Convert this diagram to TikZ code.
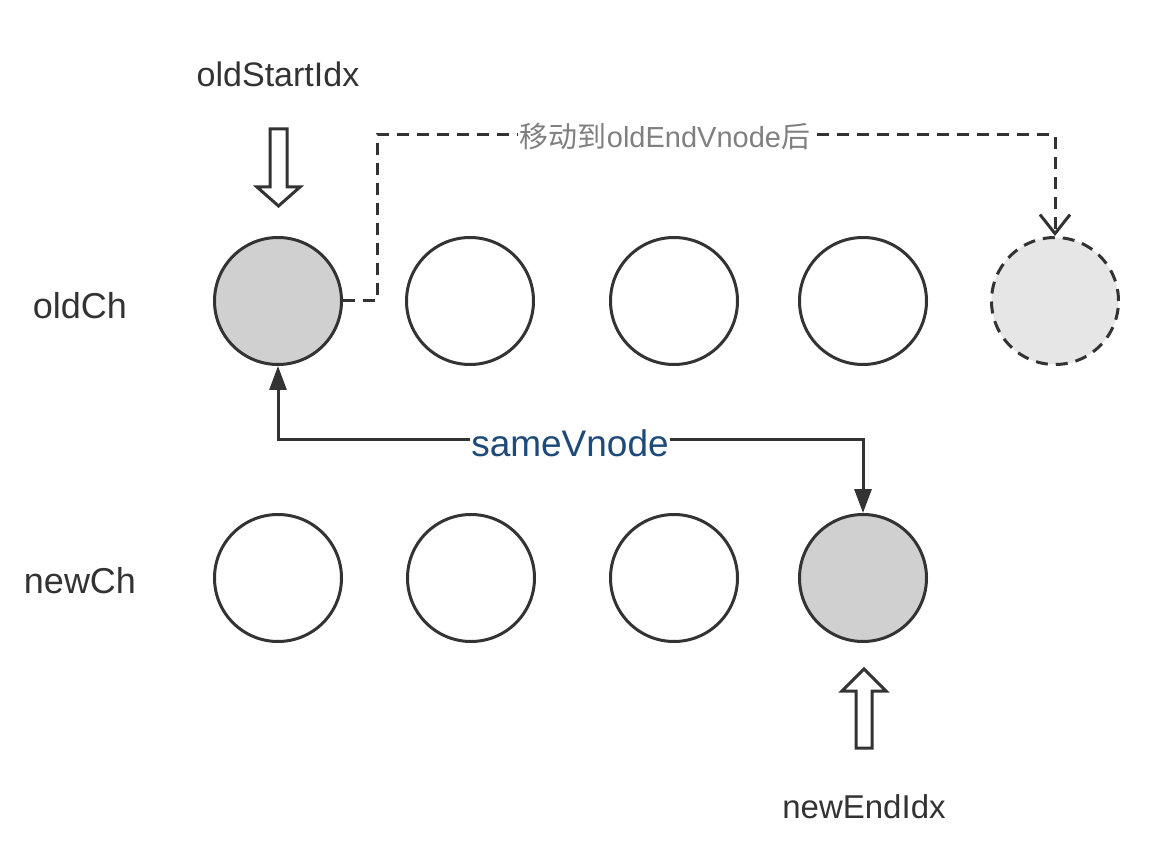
\documentclass[tikz,border=0pt]{standalone}
\usepackage{fontspec}
\setmainfont{Liberation Sans}
\newfontfamily\cjk{Noto Sans CJK SC}
\usetikzlibrary{arrows.meta}
\definecolor{ink}{HTML}{333333}
\definecolor{grayfill}{HTML}{D0D0D0}
\definecolor{ghostfill}{HTML}{E6E6E6}
\definecolor{labelgray}{HTML}{808080}
\definecolor{blueink}{HTML}{1E4A7A}
\begin{document}
\begin{tikzpicture}[x=1pt,y=-1pt,
  vnode/.style={circle,draw=ink,line width=3pt,minimum size=127pt,inner sep=0pt,fill=white},
  hit/.style={vnode,fill=grayfill},
  ghost/.style={vnode,fill=ghostfill,dash pattern=on 12pt off 8pt},
  rowlabel/.style={text=ink,inner sep=0pt,anchor=base,font=\fontsize{36}{40}\selectfont},
  idxlabel/.style={text=ink,inner sep=0pt,anchor=base,font=\fontsize{34}{40}\selectfont},
  hollow/.style={draw=ink,fill=white,line width=3pt,line join=miter},
  sameconn/.style={draw=ink,line width=3pt,{Triangle[length=24pt,width=17pt]}-{Triangle[length=24pt,width=17pt]}},
  moveconn/.style={draw=ink,line width=3pt,dash pattern=on 12pt off 8pt,-{Straight Barb[length=19pt,width=30pt,line width=3pt]}}
]
\useasboundingbox (0,0) rectangle (1152,850);

% row labels
\node[rowlabel] (oldch) at (80,319) {oldCh};
\node[rowlabel] (newch) at (80,593) {newCh};

% old children
\node[hit] (o1) at (278,301) {};
\node[vnode] (o2) at (470,301) {};
\node[vnode] (o3) at (674,301) {};
\node[vnode] (o4) at (863,301) {};
\node[ghost] (o5) at (1055,301) {};

% new children
\node[vnode] (n1) at (278,578) {};
\node[vnode] (n2) at (471,578) {};
\node[vnode] (n3) at (674,578) {};
\node[hit] (n4) at (863,578) {};

% index labels
\node[idxlabel] (osi) at (278,87) {oldStartIdx};
\node[idxlabel,font=\fontsize{33}{40}\selectfont] (nei) at (864,818) {newEndIdx};

% hollow pointer arrows
\draw[hollow] (270,129) -- (287,129) -- (287,187) -- (300,187) -- (278.5,206) -- (257,187) -- (270,187) -- cycle;
\draw[hollow] (856,748) -- (872,748) -- (872,691) -- (886,691) -- (864,669) -- (842,691) -- (856,691) -- cycle;

% move connector
\draw[moveconn] (o1.east) -- (377,301) |- (1055,135) -- (o5.north);
\node[fill=white,inner sep=2pt,text=labelgray,font=\fontsize{29}{34}\selectfont] (mv) at (665,137) {{\cjk 移动到}oldEndVnode{\cjk 后}};

% sameVnode connector
\draw[sameconn] (o1.south) -- (o1.south |- 0,439) -| (n4.north);
\node[fill=white,inner sep=1pt,text=blueink,font=\fontsize{37}{40}\selectfont] (sv) at (570,443) {sameVnode};
\end{tikzpicture}
\end{document}
